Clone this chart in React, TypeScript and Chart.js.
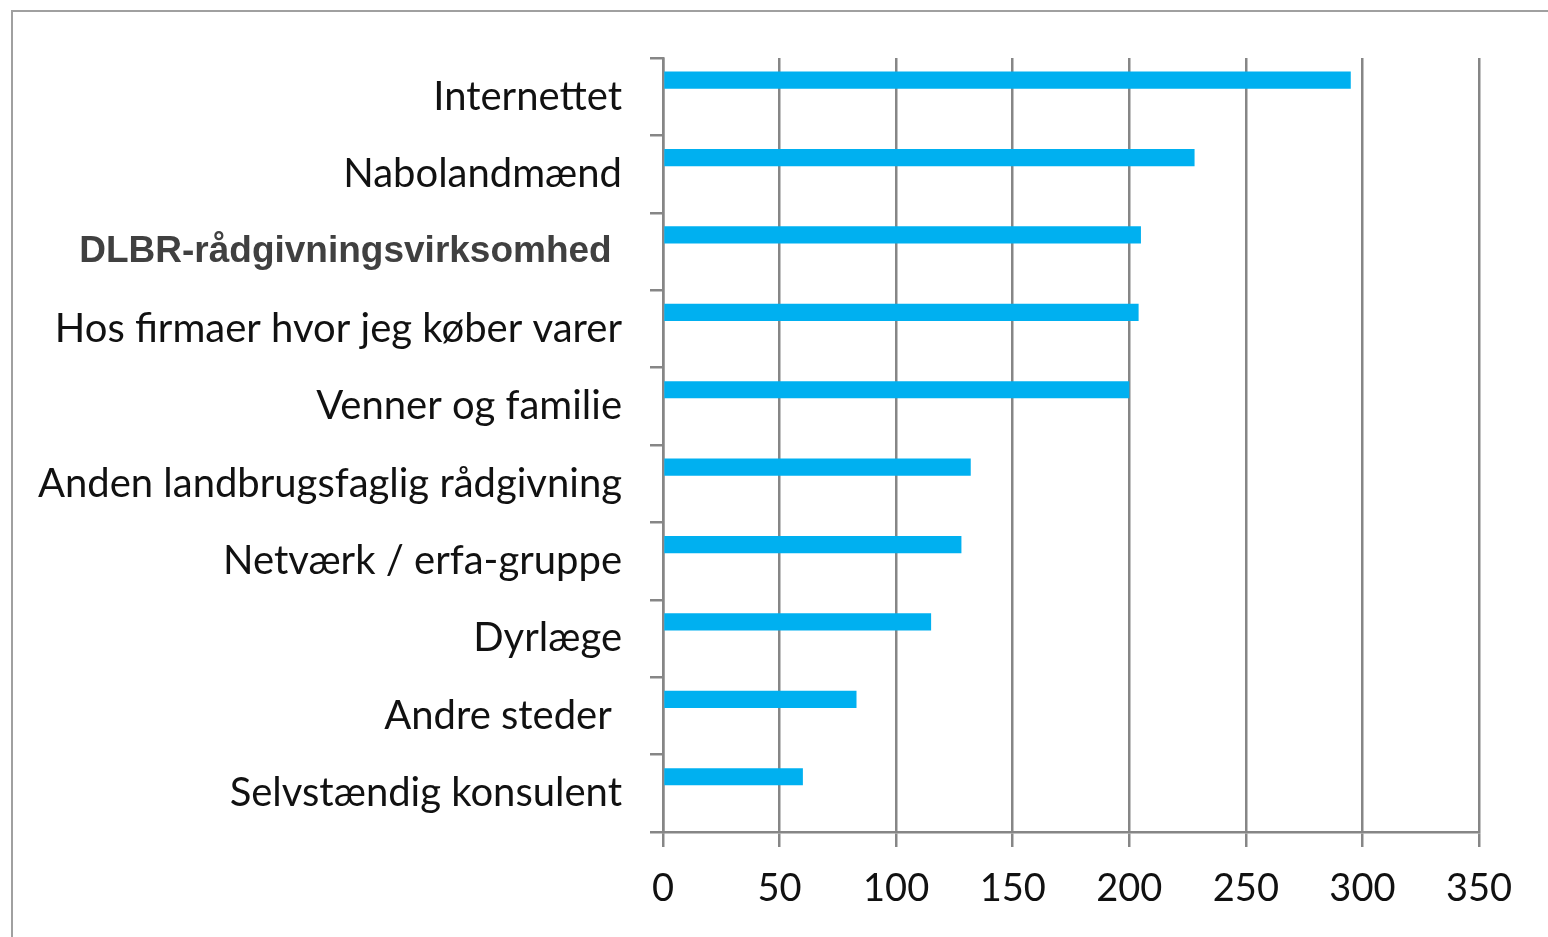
import React, { useEffect, useRef } from "react";
import { Chart, registerables } from "chart.js";

Chart.register(...registerables);

const categories = [
  "Internettet",
  "Nabolandmænd",
  "DLBR-rådgivningsvirksomhed ",
  "Hos firmaer hvor jeg køber varer",
  "Venner og familie",
  "Anden landbrugsfaglig rådgivning",
  "Netværk / erfa-gruppe",
  "Dyrlæge",
  "Andre steder ",
  "Selvstændig konsulent",
];
const values = [295, 228, 205, 204, 200, 132, 128, 115, 83, 60];
const emptySeries = [0, 0, 0, 0, 0, 0, 0, 0, 0, 0];
const xTicks = [0, 50, 100, 150, 200, 250, 300, 350];
const boldIndex = 2;

const W = 1548;
const H = 937;
const AREA_LEFT = 663;
const AREA_TOP = 58;
const AREA_RIGHT = 1479;
const AREA_BOTTOM = 832;
const GRAY = "#868686";

const framePlugin = {
  id: "frame",
  beforeDraw(chart: any) {
    const ctx = chart.ctx;
    ctx.save();
    ctx.fillStyle = "#ffffff";
    ctx.fillRect(0, 0, chart.width, chart.height);
    ctx.strokeStyle = "#a0a0a0";
    ctx.lineWidth = 2;
    ctx.beginPath();
    ctx.moveTo(12, H);
    ctx.lineTo(12, 11);
    ctx.lineTo(W, 11);
    ctx.stroke();
    ctx.restore();
  },
};

export default function App() {
  const ref = useRef<HTMLCanvasElement | null>(null);

  useEffect(() => {
    if (!ref.current) return;
    const chart = new Chart(ref.current, {
      type: "bar",
      data: {
        labels: categories,
        datasets: [
          {
            label: "Antal",
            data: values,
            backgroundColor: "#00B0F0",
            borderWidth: 0,
            barPercentage: 0.52,
            categoryPercentage: 0.855,
          },
          {
            label: "",
            data: emptySeries,
            backgroundColor: "rgba(0,0,0,0)",
            borderWidth: 0,
            barPercentage: 0.52,
            categoryPercentage: 0.855,
          },
        ],
      },
      options: {
        indexAxis: "y",
        responsive: false,
        animation: false,
        devicePixelRatio: 1,
        layout: {
          padding: { left: 0, top: AREA_TOP, right: W - AREA_RIGHT, bottom: 0 },
        },
        plugins: {
          legend: { display: false },
          tooltip: { enabled: false },
          title: { display: false },
        },
        scales: {
          x: {
            type: "linear",
            position: "bottom",
            min: 0,
            max: 350,
            afterBuildTicks: (scale: any) => {
              scale.ticks = xTicks.map((v) => ({ value: v }));
            },
            afterFit: (scale: any) => {
              scale.height = H - AREA_BOTTOM;
            },
            grid: {
              color: GRAY,
              lineWidth: 2.5,
              drawTicks: true,
              tickLength: 15,
              tickColor: GRAY,
            },
            border: { display: true, color: GRAY, width: 2.5 },
            ticks: {
              color: "#111111",
              padding: 19,
              font: { family: "Lato", size: 38 },
              maxRotation: 0,
              autoSkip: false,
            },
          },
          y: {
            type: "category",
            position: "left",
            afterFit: (scale: any) => {
              scale.width = AREA_LEFT;
            },
            grid: {
              drawOnChartArea: false,
              drawTicks: true,
              tickLength: 13,
              tickColor: GRAY,
              lineWidth: 2.5,
              offset: true,
            },
            border: { display: true, color: GRAY, width: 2.5 },
            ticks: {
              padding: 28,
              autoSkip: false,
              color: (c: any) => (c.index === boldIndex ? "#404040" : "#111111"),
              font: (c: any) =>
                c.index === boldIndex
                  ? { family: "Liberation Sans", size: 37, weight: "bold" }
                  : { family: "Lato", size: 40 },
            },
          },
        },
      },
      plugins: [framePlugin],
    } as any);
    return () => chart.destroy();
  }, []);

  return (
    <div style={{ position: "absolute", left: 0, top: 0, width: W, height: H, background: "#fff" }}>
      <canvas ref={ref} width={W} height={H} style={{ width: W, height: H, display: "block" }} />
    </div>
  );
}
